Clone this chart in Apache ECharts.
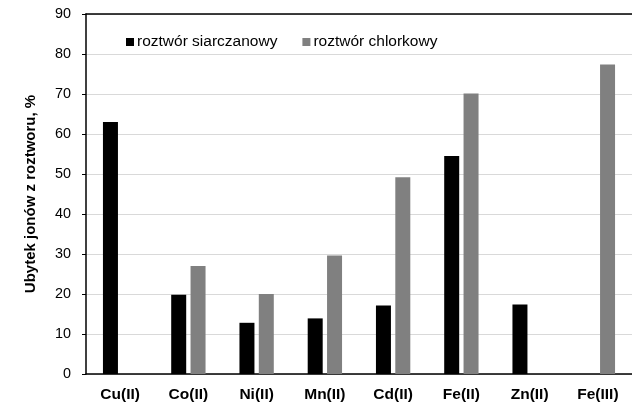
<!DOCTYPE html>
<html><head><meta charset="utf-8">
<script src="https://cdn.jsdelivr.net/npm/echarts@6/dist/echarts.min.js"></script>
<style>html,body{margin:0;padding:0;background:#fff}#c{width:632px;height:404px}</style>
</head><body><div id="c"></div>
<script>
var categories = ['Cu(II)','Co(II)','Ni(II)','Mn(II)','Cd(II)','Fe(II)','Zn(II)','Fe(III)'];
var siarczanowy = [63, 19.8, 12.8, 13.9, 17.1, 54.5, 17.4, null];
var chlorkowy = [null, 27, 20, 29.6, 49.2, 70.1, null, 77.4];
var seriesNames = ['roztwór siarczanowy', 'roztwór chlorkowy'];
var yTitle = 'Ubytek jonów z roztworu, %';

var chart = echarts.init(document.getElementById('c'), null, {renderer:'canvas'});
var font = 'Liberation Sans, Arial, sans-serif';
chart.setOption({
  animation:false,
  grid:{left:86, top:14, width:554, bottom:30, containLabel:false},
  legend:{left:121, top:29, itemWidth:8, itemHeight:8, icon:'rect', itemGap:25,
    textStyle:{fontFamily:font, fontSize:15.5, color:'#000', padding:[0,0,0,-2]},
    data:seriesNames},
  xAxis:[{type:'category', data:categories,
    axisLine:{lineStyle:{color:'#000', width:1.5}}, axisTick:{show:false},
    axisLabel:{fontFamily:font, fontSize:15.5, fontWeight:'bold', color:'#000', margin:13}},
   {type:'category', position:'top', data:categories,
    axisLine:{lineStyle:{color:'#000', width:1.5}}, axisTick:{show:false}, axisLabel:{show:false}}],
  yAxis:{type:'value', min:0, max:90, interval:10,
    name:yTitle, nameLocation:'middle', nameGap:48,
    nameTextStyle:{fontFamily:font, fontSize:15, fontWeight:'bold', color:'#000'},
    axisLine:{show:true, lineStyle:{color:'#000', width:1.5}},
    axisTick:{show:true, length:4, lineStyle:{color:'#000'}},
    axisLabel:{fontFamily:font, fontSize:14.4, color:'#000', margin:15},
    splitLine:{lineStyle:{color:'#d9d9d9', width:1}}},
  series:[
    {name:seriesNames[0], type:'bar', data:siarczanowy, barWidth:15, barGap:'29%', itemStyle:{color:'#000'}},
    {name:seriesNames[1], type:'bar', data:chlorkowy, barWidth:15, itemStyle:{color:'#808080'}}
  ]
});
</script></body></html>
